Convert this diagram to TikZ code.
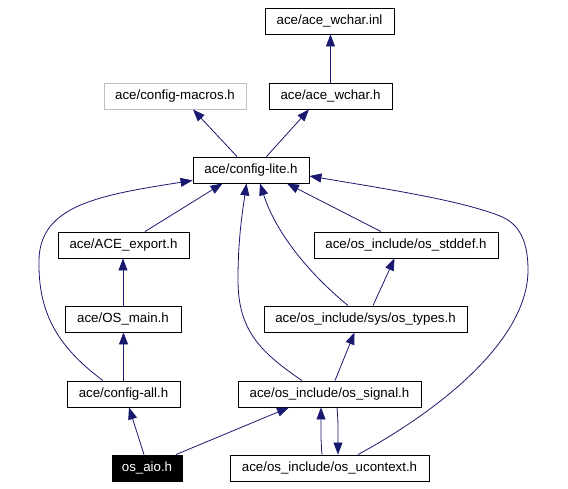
\documentclass[tikz,border=0pt]{standalone}
\usepackage{fontspec}
\setmainfont{Liberation Sans}
\usetikzlibrary{arrows.meta}
\definecolor{edgeblue}{HTML}{191970}
\definecolor{lgray}{HTML}{BFBFBF}
\begin{document}
\begin{tikzpicture}[x=1pt,y=-1pt,
  box/.style={draw=black,line width=0.9pt,fill=white,minimum height=26pt,inner sep=0pt,font=\fontsize{13.3}{15}\selectfont},
  graybox/.style={box,draw=lgray},
  blackbox/.style={box,fill=black,text=white},
  dep/.style={draw=edgeblue,line width=0.8pt,-{Triangle[length=12pt,width=9pt]},color=edgeblue}]
\useasboundingbox (0,0) rectangle (568,488);
\fill[white] (0,0) rectangle (568,488);
\node[box,minimum width=129pt] (inl) at (329.5,21) {ace/ace\_wchar.inl};
\node[graybox,minimum width=142pt] (macros) at (175,96) {ace/config-macros.h};
\node[box,minimum width=123pt] (wchar) at (330.5,96) {ace/ace\_wchar.h};
\node[box,minimum width=116pt] (lite) at (251,170) {ace/config-lite.h};
\node[box,minimum width=131pt] (export) at (123.5,245) {ace/ACE\_export.h};
\node[box,minimum width=184pt] (stddef) at (406,245) {ace/os\_include/os\_stddef.h};
\node[box,minimum width=116pt] (osmain) at (123,319) {ace/OS\_main.h};
\node[box,minimum width=203pt] (types) at (365.5,319) {ace/os\_include/sys/os\_types.h};
\node[box,minimum width=113pt] (cfgall) at (123.5,394) {ace/config-all.h};
\node[box,minimum width=183pt] (signal) at (329.5,394) {ace/os\_include/os\_signal.h};
\node[blackbox,minimum width=70pt] (aio) at (147,468) {os\_aio.h};
\node[box,minimum width=199pt] (ucontext) at (329.5,468) {ace/os\_include/os\_ucontext.h};

\draw[dep] (wchar.north) -- (wchar.north |- inl.south);
\draw[dep] ([xshift=-14pt]lite.north) -- ([xshift=18pt]macros.south);
\draw[dep] ([xshift=15.5pt]lite.north) -- ([xshift=-21.5pt]wchar.south);
\draw[dep] ([xshift=21.5pt]export.north) -- ([xshift=-28.5pt]lite.south);
\draw[dep] ([xshift=-20.5pt]cfgall.north) .. controls (55,345) and (38,310) .. (39,260)
  .. controls (40,205) and (100,195) .. ([yshift=3pt]lite.south west);
\draw[dep] ([xshift=-27.5pt]signal.north) .. controls (260,352) and (238,330) .. (238,280)
  .. controls (238,240) and (242,215) .. ([xshift=-4.5pt]lite.south);
\draw[dep] ([xshift=-17.5pt]types.north) .. controls (305,270) and (275,230) .. ([xshift=9pt]lite.south);
\draw[dep] ([xshift=-25pt]stddef.north) -- ([xshift=36pt]lite.south);
\draw[dep] ([xshift=28.5pt]ucontext.north) .. controls (440,410) and (528,340) .. (528,270)
  .. controls (528,235) and (515,222) .. (500,216)
  .. controls (460,200) and (380,188) .. ([yshift=-6pt]lite.east);
\draw[dep] (osmain.north) -- (osmain.north |- export.south);
\draw[dep] (cfgall.north) -- (cfgall.north |- osmain.south);
\draw[dep] ([xshift=7.5pt]types.north) -- ([xshift=-11.5pt]stddef.south);
\draw[dep] ([xshift=5.5pt]signal.north) -- ([xshift=-11pt]types.south);
\draw[dep] ([xshift=-3pt]aio.north) -- ([xshift=5.5pt]cfgall.south);
\draw[dep] ([xshift=29pt]aio.north) -- ([xshift=-40.5pt]signal.south);
\draw[dep] ([xshift=-7.5pt]ucontext.north) .. controls ([xshift=-9pt,yshift=16pt]ucontext.north) and ([xshift=-8.5pt,yshift=-16pt]signal.south) .. ([xshift=-8.5pt]signal.south);
\draw[dep] ([xshift=7.5pt]signal.south) .. controls ([xshift=9pt,yshift=-16pt]signal.south) and ([xshift=8.5pt,yshift=16pt]ucontext.north) .. ([xshift=8.5pt]ucontext.north);
\end{tikzpicture}
\end{document}
